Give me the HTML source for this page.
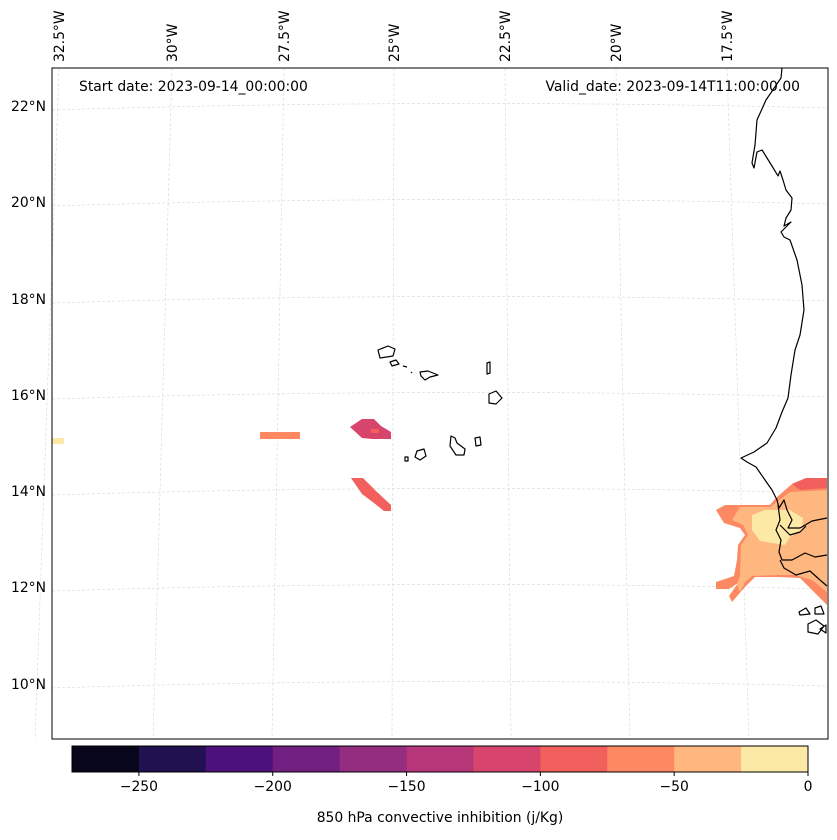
<!DOCTYPE html>
<html><head><meta charset="utf-8"><style>
body{margin:0;background:#fff;font-family:"DejaVu Sans",sans-serif;}
svg text{font-family:"DejaVu Sans",sans-serif;}
</style></head><body>
<svg id="chart" width="837" height="836" viewBox="0 0 837 836" xmlns="http://www.w3.org/2000/svg">
<rect width="837" height="836" fill="#fff"/>
<g>
<g id="grid" stroke="#dcdcdc" stroke-width="0.7" stroke-dasharray="3,2" fill="none"></g>
<g stroke="none">
<rect x="52" y="438" width="12" height="6" fill="#fde9a6"/>
<rect x="260" y="432" width="40" height="7" fill="#fc8961"/>
<path d="M350,427 L362,419 L374,419 L381,426 L391,432 L391,439 L372,439 L362,438 Z" fill="#d8456c"/>
<rect x="371" y="429" width="8" height="4" fill="#f1605d"/>
<path d="M351,478 L363,478 L377,492 L391,505 L391,511 L384,511 L374,503 L362,494 Z" fill="#f1605d"/>
<path d="M716,510 L725,505 L770,505 L776,498 L792,484 L806,478 L827,478 L827,605 L812,590 L800,578 L778,577 L755,577 L745,587 L732,602 L729,596 L738,583 L729,589 L716,589 L716,582 L734,576 L737,560 L738,545 L745,535 L740,528 L724,523 Z" fill="#fc8961"/>
<path d="M740,507 L770,507 L790,492 L827,490 L827,592 L812,580 L795,575 L778,575 L752,576 L745,582 L740,592 L737,585 L740,575 L741,545 L748,535 L743,525 L732,520 Z" fill="#feb77e"/>
<path d="M792,484 L806,478 L827,478 L827,488 L800,490 Z" fill="#f1605d"/>
<path d="M752,515 L765,510 L790,510 L803,518 L802,530 L790,537 L785,545 L760,541 L752,530 Z" fill="#fde9a6"/>
</g>
<g fill="none" stroke="#000" stroke-width="1.2" stroke-linejoin="round">
<path d="M782,68 L781,78 L766,100 L757,120 L755,145 L752,163 L754,168 L757,152 L762,150 L772,166 L778,176 L780,171 L783,180 L786,190 L792,198 L791,210 L786,218 L784,226 L791,222 L781,232 L784,237 L790,240 L797,260 L802,285 L804,310 L800,335 L795,350 L791,375 L788,398 L782,412 L776,428 L767,443 L754,452 L741,458 L747,462 L756,467 L765,480 L772,490 L777,500 L779,508 L784,500 L787,510 L792,520 L788,528 L800,528 L812,521 L827,518"/>
<path d="M778,505 L780,520 L776,530 L781,540 L779,552 L782,560 L792,560 L805,553 L815,557 L827,555"/>
<path d="M780,560 L784,568 L796,575 L810,571 L820,580 L827,586"/>
<path d="M780,525 L790,535 L800,532 L806,526"/>
<path d="M799,612 L806,608 L810,614 L800,615 Z M815,608 L821,606 L824,614 L815,614 Z M808,624 L816,620 L824,626 L818,634 L808,632 Z M820,629 L826,625 L826,633 Z"/>
<path d="M378,350 L388,346 L395,349 L393,356 L380,358 Z"/>
<path d="M390,362 L396,360 L399,364 L392,366 Z"/>
<path d="M403,366 L407,367 M411,372 L412,373"/>
<path d="M420,372 L428,371 L438,375 L430,377 L425,380 L421,376 Z"/>
<path d="M487,363 L490,362 L490,373 L487,374 Z"/>
<path d="M489,394 L496,391 L502,398 L496,404 L489,403 Z"/>
<path d="M451,436 L455,438 L457,443 L465,449 L464,455 L456,455 L450,446 Z"/>
<path d="M475,438 L480,437 L481,445 L476,446 Z"/>
<path d="M417,451 L424,449 L426,456 L420,460 L415,457 Z"/>
<path d="M405,457 L408,457 L408,461 L405,461 Z"/>
</g>
<rect x="52" y="68" width="776" height="671" fill="none" stroke="#000" stroke-width="1"/>
<text x="79" y="91" font-size="13.9">Start date: 2023-09-14_00:00:00</text>
<text x="800" y="91" font-size="13.9" text-anchor="end">Valid_date: 2023-09-14T11:00:00.00</text>
</g>
<g id="latlabels" font-size="13.9"></g>
<g id="lonlabels" font-size="13.9"></g>
<g id="cbar"></g>
<text x="440" y="822" font-size="13.9" text-anchor="middle">850 hPa convective inhibition (j/Kg)</text>
</svg>
<script>
const latValues=[22,20,18,16,14,12,10];
const latPixelY=[106,202,299,395,491,587,684];
const lonValues=[32.5,30,27.5,25,22.5,20,17.5];
const lonTopX=[59,172,284,394,505,616,727];
const lonBotX=[35,153,272,392,511,630,749];
const cbLevels=[-275,-250,-225,-200,-175,-150,-125,-100,-75,-50,-25,0];
const cbColors=["#07061a","#221150","#4c117a","#711f81","#942c80","#b63679","#d8456c","#f1605d","#fc8961","#feb77e","#fde9a6"];
const cbTicks=[-250,-200,-150,-100,-50,0];
const NS="http://www.w3.org/2000/svg";
function mk(t,a,p){const e=document.createElementNS(NS,t);for(const k in a)e.setAttribute(k,a[k]);p.appendChild(e);return e;}
const grid=document.getElementById('grid');
latValues.forEach((v,i)=>{const y=latPixelY[i];
 const p=mk('path',{d:`M52,${y+4} Q440,${y-8} 828,${y+2}`},grid);
 
 
 const t=mk('text',{x:46,y:y+5,'text-anchor':'end'},document.getElementById('latlabels'));
 t.textContent=v+'°N';
 
 
});
lonValues.forEach((v,i)=>{
 const l=mk('line',{x1:lonTopX[i],y1:68,x2:lonBotX[i],y2:739},grid);
 
 
 const x=lonTopX[i]+5;
 const t=mk('text',{x:x,y:62,transform:`rotate(-90 ${x} 62)`},document.getElementById('lonlabels'));
 t.textContent=v+'°W';
 
 
});
const cb=document.getElementById('cbar');
const x0=72,x1=808,yT=746,h=26;
const sx=v=>x0+(v-cbLevels[0])/(cbLevels[cbLevels.length-1]-cbLevels[0])*(x1-x0);
for(let i=0;i<cbColors.length;i++){
 const r=mk('rect',{x:sx(cbLevels[i]),y:yT,width:sx(cbLevels[i+1])-sx(cbLevels[i])+0.5,height:h,fill:cbColors[i]},cb);
 
 
}
mk('rect',{x:x0,y:yT,width:x1-x0,height:h,fill:'none',stroke:'#000','stroke-width':1},cb);
cbTicks.forEach(v=>{
 mk('line',{x1:sx(v),y1:yT+h,x2:sx(v),y2:yT+h+4,stroke:'#000'},cb);
 const t=mk('text',{x:sx(v),y:yT+h+19,'font-size':13.9,'text-anchor':'middle'},cb);
 t.textContent=v<0?'\u2212'+Math.abs(v):String(v);
 
 
});
</script>
</body></html>
